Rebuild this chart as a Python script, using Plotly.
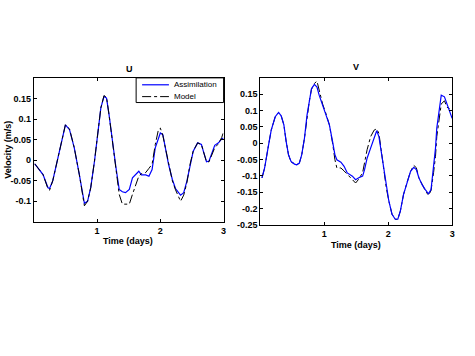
import plotly.graph_objects as go

# ---- U component ----
u_days = [0.016, 0.146, 0.225, 0.25, 0.30, 0.38, 0.43, 0.50, 0.565, 0.64, 0.72, 0.77, 0.80, 0.85, 0.90,
          0.96, 1.01, 1.06, 1.11, 1.15, 1.19, 1.24, 1.30, 1.35, 1.40, 1.45, 1.51, 1.56, 1.61, 1.66,
          1.70, 1.77, 1.82, 1.87, 1.92, 1.97, 2.00, 2.04, 2.08, 2.13, 2.19, 2.24, 2.32, 2.37, 2.42,
          2.47, 2.52, 2.59, 2.65, 2.68, 2.73, 2.77, 2.81, 2.86, 2.92, 2.97, 3.0]
u_assim = [-0.009, -0.035, -0.067, -0.069, -0.05, 0.005, 0.046, 0.086, 0.074, 0.03, -0.035, -0.083, -0.105, -0.1, -0.067,
           -0.002, 0.07, 0.127, 0.155, 0.151, 0.11, 0.046, -0.019, -0.071, -0.077, -0.079, -0.071, -0.043, -0.036, -0.027,
           -0.036, -0.036, -0.039, -0.023, 0.03, 0.054, 0.066, 0.062, 0.03, -0.01, -0.047, -0.069, -0.085, -0.079, -0.051,
           -0.01, 0.022, 0.042, 0.038, 0.022, -0.004, -0.002, 0.014, 0.036, 0.042, 0.052, 0.054]
u_model = [-0.009, -0.035, -0.07, -0.073, -0.05, 0.005, 0.046, 0.086, 0.076, 0.03, -0.035, -0.088, -0.111, -0.1, -0.067,
           -0.002, 0.07, 0.127, 0.157, 0.153, 0.11, 0.046, -0.019, -0.083, -0.107, -0.107, -0.107, -0.083, -0.06, -0.039,
           -0.033, -0.03, -0.02, -0.01, 0.038, 0.074, 0.078, 0.06, 0.03, -0.01, -0.05, -0.072, -0.1, -0.085, -0.055,
           -0.01, 0.022, 0.042, 0.038, 0.022, -0.004, -0.004, 0.01, 0.03, 0.04, 0.055, 0.069]

# ---- V component ----
v_days = [0.026, 0.067, 0.12, 0.17, 0.233, 0.285, 0.326, 0.368, 0.404, 0.44, 0.48, 0.534, 0.57, 0.61, 0.648,
          0.69, 0.73, 0.767, 0.80, 0.845, 0.886, 0.92, 0.974, 1.026, 1.08, 1.13, 1.166, 1.197, 1.26, 1.31,
          1.36, 1.44, 1.49, 1.54, 1.60, 1.63, 1.67, 1.725, 1.78, 1.82, 1.855, 1.89, 1.93, 1.97, 2.01,
          2.06, 2.11, 2.15, 2.19, 2.24, 2.30, 2.35, 2.40, 2.44, 2.48, 2.53, 2.58, 2.63, 2.67, 2.71,
          2.74, 2.76, 2.80, 2.83, 2.88, 2.92, 2.96, 3.0]
v_assim = [-0.106, -0.076, -0.015, 0.04, 0.081, 0.094, 0.084, 0.056, 0.005, -0.035, -0.056, -0.064, -0.066, -0.061, -0.035,
           0.015, 0.086, 0.137, 0.167, 0.18, 0.172, 0.147, 0.117, 0.091, 0.056, 0.005, -0.035, -0.051, -0.058, -0.071,
           -0.091, -0.101, -0.112, -0.106, -0.101, -0.081, -0.046, -0.015, 0.015, 0.038, 0.02, -0.025, -0.086, -0.137, -0.177,
           -0.218, -0.233, -0.233, -0.208, -0.157, -0.117, -0.086, -0.074, -0.081, -0.106, -0.127, -0.142, -0.155, -0.142, -0.076,
           -0.015, 0.046, 0.106, 0.147, 0.142, 0.122, 0.096, 0.076]
v_model = [-0.106, -0.076, -0.015, 0.04, 0.081, 0.094, 0.084, 0.056, 0.005, -0.035, -0.058, -0.064, -0.066, -0.061, -0.035,
           0.015, 0.08, 0.13, 0.165, 0.183, 0.19, 0.16, 0.12, 0.091, 0.056, 0.0, -0.05, -0.076, -0.076, -0.085,
           -0.095, -0.11, -0.122, -0.11, -0.09, -0.06, -0.02, 0.02, 0.04, 0.044, 0.03, -0.02, -0.085, -0.137, -0.177,
           -0.218, -0.233, -0.233, -0.208, -0.157, -0.117, -0.086, -0.068, -0.075, -0.106, -0.127, -0.145, -0.16, -0.145, -0.09,
           -0.04, 0.02, 0.076, 0.12, 0.13, 0.11, 0.106, 0.1]

x_ticks = [1, 2, 3]
u_yticks = [-0.1, -0.05, 0, 0.05, 0.1, 0.15]
u_yticklabels = ["-0.1", "-0.05", "0", "0.05", "0.1", "0.15"]
v_yticks = [-0.25, -0.2, -0.15, -0.1, -0.05, 0, 0.05, 0.1, 0.15]
v_yticklabels = ["-0.25", "-0.2", "-0.15", "-0.1", "-0.05", "0", "0.05", "0.1", "0.15"]
legend_names = ["Assimilation", "Model"]

W, H = 475, 356
FONT = "Arial"
BLUE = "#0000ff"

fig = go.Figure()
fig.add_trace(go.Scatter(x=u_days, y=u_assim, mode="lines", name=legend_names[0],
                         line=dict(color=BLUE, width=1.2), xaxis="x", yaxis="y"))
fig.add_trace(go.Scatter(x=u_days, y=u_model, mode="lines", name=legend_names[1],
                         line=dict(color="black", width=1, dash="dashdot"), xaxis="x", yaxis="y"))
fig.add_trace(go.Scatter(x=v_days, y=v_model, mode="lines",
                         line=dict(color="black", width=1, dash="dashdot"), xaxis="x2", yaxis="y2"))
fig.add_trace(go.Scatter(x=v_days, y=v_assim, mode="lines",
                         line=dict(color=BLUE, width=1.2), xaxis="x2", yaxis="y2"))

tickfont = dict(family=FONT, size=9, color="black", weight="bold")
ax_common = dict(showline=True, mirror="ticks", linecolor="black", linewidth=1,
                 ticks="inside", ticklen=3, tickcolor="black", showgrid=False,
                 zeroline=False, tickfont=tickfont)

fig.update_layout(
    width=W, height=H,
    margin=dict(l=0, r=0, t=0, b=0),
    paper_bgcolor="white", plot_bgcolor="white",
    showlegend=False,
    xaxis=dict(domain=[34 / W, 225 / W], range=[0, 3], tickvals=x_ticks,
               anchor="y", **ax_common),
    yaxis=dict(domain=[1 - 225 / H, 1 - 79 / H], range=[-0.15, 0.2],
               tickvals=u_yticks, ticktext=u_yticklabels, anchor="x", **ax_common),
    xaxis2=dict(domain=[262 / W, 455 / W], range=[0, 3], tickvals=x_ticks,
                anchor="y2", **ax_common),
    yaxis2=dict(domain=[1 - 228 / H, 1 - 79 / H], range=[-0.25, 0.2],
                tickvals=v_yticks, ticktext=v_yticklabels, anchor="x2", **ax_common),
)

def ann(text, x, y, size=9, angle=0, bold=True, xanchor="center"):
    fig.add_annotation(text=text, x=x / W, y=1 - y / H, xref="paper", yref="paper",
                       showarrow=False, textangle=angle, xanchor=xanchor, yanchor="middle",
                       font=dict(family=FONT, size=size, color="black",
                                 weight="bold" if bold else "normal"))

ann("U", 130, 70, size=9)
ann("V", 358, 68, size=9)
ann("Velocity (m/s)", 8, 152, angle=-90)
ann("Time (days)", 129, 244)
ann("Time (days)", 358, 248)

# legend box (drawn like MATLAB's compact legend)
fig.add_shape(type="rect", xref="paper", yref="paper",
              x0=137 / W, x1=225 / W, y0=1 - 104 / H, y1=1 - 79 / H,
              line=dict(color="black", width=1), fillcolor="white", layer="above")
fig.add_shape(type="line", xref="paper", yref="paper",
              x0=143 / W, x1=170 / W, y0=1 - 86 / H, y1=1 - 86 / H,
              line=dict(color=BLUE, width=1.2), layer="above")
fig.add_shape(type="line", xref="paper", yref="paper",
              x0=143 / W, x1=170 / W, y0=1 - 98 / H, y1=1 - 98 / H,
              line=dict(color="black", width=1, dash="dashdot"), layer="above")
ann(legend_names[0], 173, 86, size=8, bold=False, xanchor="left")
ann(legend_names[1], 173, 98, size=8, bold=False, xanchor="left")

fig.write_html("out.html", config={"displayModeBar": False},
               post_script="document.body.style.margin='0';")
